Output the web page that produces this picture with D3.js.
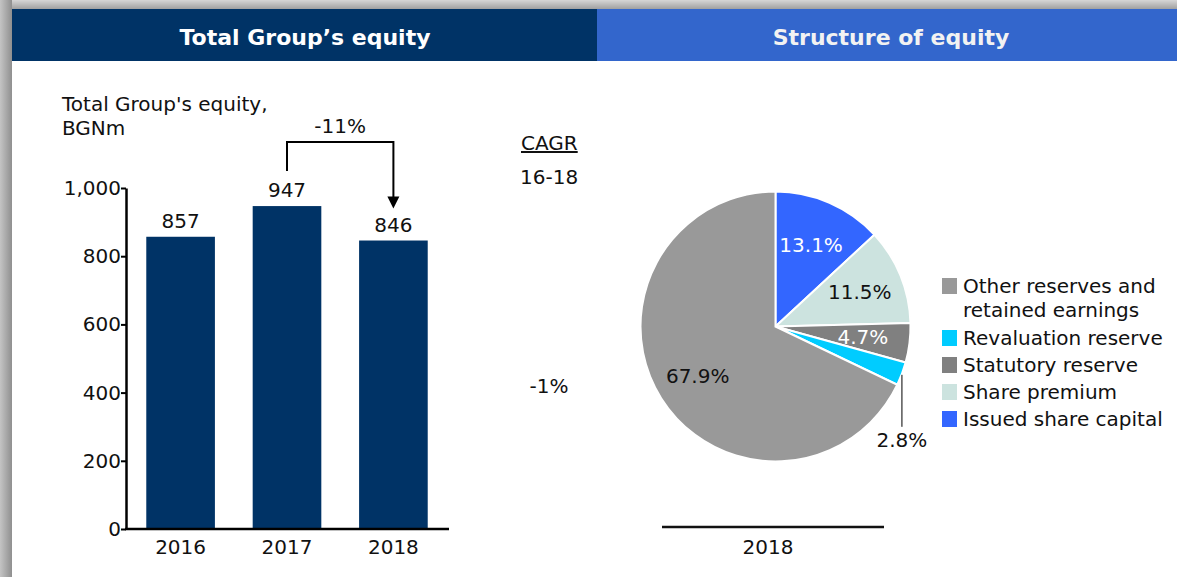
<!DOCTYPE html>
<html>
<head>
<meta charset="utf-8">
<script src="https://cdn.jsdelivr.net/npm/d3@7"></script>
<style>
  body { margin: 0; background: #fff; }
  text { font-family: "DejaVu Sans", Verdana, sans-serif; }
</style>
</head>
<body>
<svg width="1177" height="577"></svg>
<script>
// bar chart data
let years = ["2016", "2017", "2018"];
let equity = [857, 947, 846];
let yTicks = [0, 200, 400, 600, 800, 1000];

// pie data (in drawing order, clockwise from 12 o'clock)
let parts = ["Issued share capital", "Share premium", "Statutory reserve", "Revaluation reserve", "Other reserves and retained earnings"];
let shares = [13.1, 11.5, 4.7, 2.8, 67.9];
let partColors = ["#3366ff", "#cce3df", "#808080", "#00ccff", "#999999"];
let labelColors = ["#fff", "#111", "#fff", "#111", "#111"];
let legendOrder = [4, 3, 2, 1, 0];

let fs = 20;
let svg = d3.select("svg");

// background shadow + panel
let shade = svg.append("defs");
let gl = shade.append("linearGradient").attr("id", "shL");
gl.append("stop").attr("offset", "0").attr("stop-color", "#c4c4c4");
gl.append("stop").attr("offset", "1").attr("stop-color", "#8f8f8f");
let gt = shade.append("linearGradient").attr("id", "shT").attr("x1", 0).attr("x2", 0).attr("y1", 0).attr("y2", 1);
gt.append("stop").attr("offset", "0").attr("stop-color", "#d6d6d6");
gt.append("stop").attr("offset", "1").attr("stop-color", "#a0a0a0");

svg.append("rect").attr("x", 0).attr("y", 0).attr("width", 1177).attr("height", 9).attr("fill", "url(#shT)");
svg.append("rect").attr("x", 0).attr("y", 0).attr("width", 12).attr("height", 577).attr("fill", "url(#shL)");

// headers
svg.append("rect").attr("x", 12).attr("y", 9).attr("width", 585).attr("height", 52).attr("fill", "#003366");
svg.append("rect").attr("x", 597).attr("y", 9).attr("width", 580).attr("height", 52).attr("fill", "#3366cc");
svg.append("text").attr("x", 305).attr("y", 45).attr("text-anchor", "middle")
  .attr("fill", "#fff").attr("font-weight", "bold").attr("font-size", 22).text("Total Group\u2019s equity");
svg.append("text").attr("x", 891).attr("y", 45).attr("text-anchor", "middle")
  .attr("fill", "#f2f2f2").attr("font-weight", "bold").attr("font-size", 22).text("Structure of equity");

// ---- bar chart ----
let x = d3.scaleBand().domain(years).range([125, 449]).paddingInner(0.355).paddingOuter(0.2);
let y = d3.scaleLinear().domain([0, 1000]).range([529, 188]);

let g = svg.append("g");

g.selectAll(".bar")
  .data(equity)
  .enter().append("rect")
  .attr("class", "bar")
  .attr("x", function(d, i) { return x(years[i]); })
  .attr("y", function(d) { return y(d); })
  .attr("width", x.bandwidth())
  .attr("height", function(d) { return y(0) - y(d); })
  .attr("fill", "#003366");

g.selectAll(".val")
  .data(equity)
  .enter().append("text")
  .attr("x", function(d, i) { return x(years[i]) + x.bandwidth() / 2; })
  .attr("y", function(d) { return y(d) - 9; })
  .attr("text-anchor", "middle")
  .attr("font-size", fs)
  .attr("fill", "#111")
  .text(function(d) { return d; });

let yAxis = g.append("g")
  .attr("transform", "translate(126,0)")
  .call(d3.axisLeft(y).tickValues(yTicks).tickSize(5).tickSizeOuter(0).tickFormat(d3.format(",")));
yAxis.select(".domain").attr("stroke-width", 2.5);
yAxis.selectAll(".tick line").attr("stroke-width", 2);
yAxis.selectAll(".tick text").attr("font-size", fs).attr("fill", "#111").attr("x", -5)
  .attr("font-family", "DejaVu Sans, Verdana, sans-serif");

let xAxis = g.append("g")
  .attr("transform", "translate(0,529)")
  .call(d3.axisBottom(x).tickSize(0).tickSizeOuter(0));
xAxis.select(".domain").attr("d", "M125,0H449").attr("stroke-width", 2.5);
xAxis.selectAll(".tick text").attr("font-size", fs).attr("fill", "#111").attr("dy", "1.1em")
  .attr("font-family", "DejaVu Sans, Verdana, sans-serif");

// axis title
svg.append("text").attr("x", 62).attr("y", 111).attr("font-size", fs).attr("fill", "#111").text("Total Group's equity,");
svg.append("text").attr("x", 62).attr("y", 135).attr("font-size", fs).attr("fill", "#111").text("BGNm");

// change bracket 2017 -> 2018
let x1 = x("2017") + x.bandwidth() / 2, x2 = x("2018") + x.bandwidth() / 2;
svg.append("path")
  .attr("d", "M" + x1 + "," + (y(equity[1]) - 35) + "V142H" + x2 + "V" + (y(equity[2]) - 40))
  .attr("fill", "none").attr("stroke", "#000").attr("stroke-width", 2);
svg.append("path")
  .attr("d", "M" + (x2 - 6) + "," + (y(equity[2]) - 44) + "L" + (x2 + 6) + "," + (y(equity[2]) - 44) + "L" + x2 + "," + (y(equity[2]) - 32) + "Z")
  .attr("fill", "#000");
svg.append("text").attr("x", (x1 + x2) / 2).attr("y", 133).attr("text-anchor", "middle")
  .attr("font-size", fs).attr("fill", "#111").text(((equity[2] / equity[1] - 1) * 100).toFixed(0) + "%");

// CAGR
svg.append("text").attr("x", 521).attr("y", 150).attr("font-size", fs).attr("fill", "#111")
  .attr("text-decoration", "underline").text("CAGR");
svg.append("text").attr("x", 520).attr("y", 184).attr("font-size", fs).attr("fill", "#111").text("16-18");
svg.append("text").attr("x", 549).attr("y", 393).attr("text-anchor", "middle").attr("font-size", fs).attr("fill", "#111").text("-1%");

// ---- pie ----
let cx = 775.5, cy = 326.5, r = 135;
let pie = d3.pie().sort(null).value(function(d) { return d; });
let arcs = pie(shares);
let arc = d3.arc().innerRadius(0).outerRadius(r);
let pg = svg.append("g").attr("transform", "translate(" + cx + "," + cy + ")");

pg.selectAll(".slice")
  .data(arcs)
  .enter().append("path")
  .attr("class", "slice")
  .attr("d", arc)
  .attr("fill", function(d, i) { return partColors[i]; })
  .attr("stroke", "#fff")
  .attr("stroke-width", 2);

// label radius per slice (0 = outside label with leader)
let labelR = [89, 91, 88, 0, 92];
pg.selectAll(".plab")
  .data(arcs.filter(function(d) { return labelR[d.index] > 0; }))
  .enter().append("text")
  .attr("class", "plab")
  .attr("transform", function(d) {
    let a = (d.startAngle + d.endAngle) / 2, lr = labelR[d.index];
    return "translate(" + (Math.sin(a) * lr) + "," + (-Math.cos(a) * lr) + ")";
  })
  .attr("dy", "0.36em")
  .attr("text-anchor", "middle")
  .attr("font-size", fs)
  .attr("fill", function(d) { return labelColors[d.index]; })
  .text(function(d) { return shares[d.index].toFixed(1) + "%"; });

// leader for revaluation reserve
let rev = arcs[3];
let ra = (rev.startAngle + rev.endAngle) / 2;
let lx = Math.sin(ra) * r, ly = -Math.cos(ra) * r;
pg.append("path").attr("d", "M" + lx + "," + (ly + 1) + "V" + (ly + 53))
  .attr("stroke", "#000").attr("stroke-width", 1).attr("fill", "none");
pg.append("text").attr("x", lx).attr("y", ly + 73).attr("text-anchor", "middle")
  .attr("font-size", fs).attr("fill", "#111").text(shares[3].toFixed(1) + "%");

// base line & year
svg.append("line").attr("x1", 662).attr("x2", 884).attr("y1", 527).attr("y2", 527).attr("stroke", "#111").attr("stroke-width", 2.5);
svg.append("text").attr("x", 768).attr("y", 554).attr("text-anchor", "middle").attr("font-size", fs).attr("fill", "#111").text("2018");

// legend
let lg = svg.append("g").attr("transform", "translate(942,0)");
let rowY = [286, 338, 365, 392, 419];
legendOrder.forEach(function(k, j) {
  lg.append("rect").attr("x", 0).attr("y", rowY[j] - 8).attr("width", 15).attr("height", 16).attr("fill", partColors[k]);
  let words = parts[k] === "Other reserves and retained earnings" ? ["Other reserves and", "retained earnings"] : [parts[k]];
  words.forEach(function(w, m) {
    lg.append("text").attr("x", 21).attr("y", rowY[j] + 24 * m).attr("dy", "0.36em")
      .attr("font-size", fs).attr("fill", "#111").text(w);
  });
});
</script>
</body>
</html>
